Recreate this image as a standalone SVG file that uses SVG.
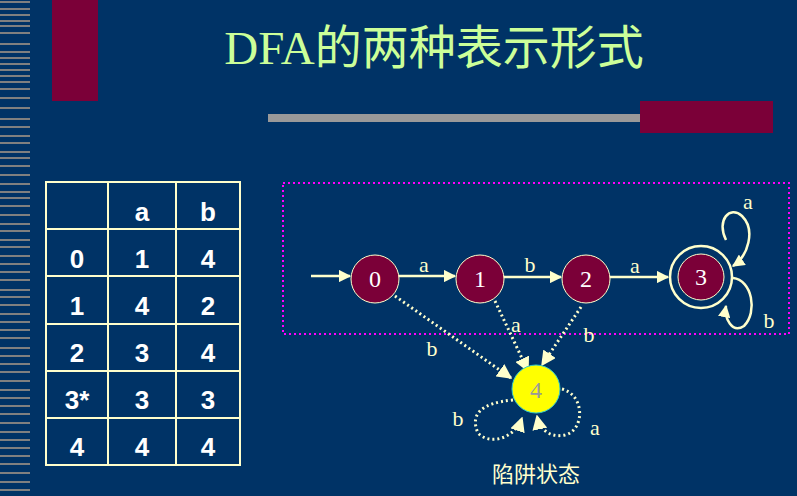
<svg xmlns="http://www.w3.org/2000/svg" width="797" height="496" viewBox="0 0 797 496">
<style>
.st{stroke:#808080;stroke-width:2}
.tb{font-family:"Liberation Sans",Arial,sans-serif;font-weight:bold;font-size:26px;fill:#fff;text-anchor:middle}
.gl{stroke:#FFFFCC;stroke-width:2.5;fill:none}
.dt{stroke:#FFFFCC;stroke-width:3;fill:none;stroke-dasharray:2 3}
.lb{font-family:"Liberation Serif","Times New Roman",serif;font-size:22px;fill:#FFFFCC;text-anchor:middle}
.nd{fill:#7B0038;stroke:#FFFFCC;stroke-width:1}
.nt{font-family:"Liberation Serif","Times New Roman",serif;font-size:24px;fill:#fff;text-anchor:middle}
</style>
<defs><marker id="ar" viewBox="0 0 10 10" refX="9" refY="5" markerWidth="5" markerHeight="5" orient="auto"><path d="M0,0L10,5L0,10z" fill="#FFFFCC"/></marker></defs>
<rect width="797" height="496" fill="#003366"/>
<g id="stripes">
<path class="st" d="M0,2H30M0,9H30M0,15H30M0,21H30M0,26H30M0,33H30M0,44H30M0,52H30M0,58H30M0,64H30M0,70H30M0,76H30M0,82H30M0,89H30M0,98H30M0,108H30M0,119H30M0,127H30M0,136H30M0,143H30M0,152H30M0,158H30M0,166H30M0,175H30M0,184H30M0,192H30M0,198H30M0,206H30M0,215H30M0,224H30M0,231H30M0,240H30M0,247H30M0,256H30M0,264H30M0,272H30M0,280H30M0,290H30M0,297H30M0,305H30M0,314H30M0,322H30M0,330H30M0,338H30M0,348H30M0,356H30M0,364H30M0,372H30M0,381H30M0,390H30M0,398H30M0,406H30M0,414H30M0,423H30M0,432H30M0,440H30M0,448H30M0,456H30M0,464H30M0,473H30M0,482H30M0,490H30"/>
</g>
<rect x="52" y="0" width="46" height="101" fill="#7B0038"/>
<rect x="268" y="114" width="505" height="8" fill="#999"/>
<rect x="640" y="101" width="133" height="32" fill="#7B0038"/>
<text x="434" y="64" font-family="'Liberation Serif','Noto Sans CJK SC',serif" font-size="47" fill="#CCFF99" text-anchor="middle">DFA的两种表示形式</text>
<g id="table">
<rect x="46" y="182" width="194" height="283" fill="none" stroke="#FFFFCC" stroke-width="2"/>
<path d="M108,182V465M176,182V465M46,229H240M46,276H240M46,324H240M46,371H240M46,418H240" stroke="#FFFFCC" stroke-width="2"/>
<text class="tb" x="142" y="221">a</text><text class="tb" x="208" y="221">b</text>
<text class="tb" x="77" y="268">0</text><text class="tb" x="142" y="268">1</text><text class="tb" x="208" y="268">4</text>
<text class="tb" x="77" y="315">1</text><text class="tb" x="142" y="315">4</text><text class="tb" x="208" y="315">2</text>
<text class="tb" x="77" y="362">2</text><text class="tb" x="142" y="362">3</text><text class="tb" x="208" y="362">4</text>
<text class="tb" x="77" y="409">3*</text><text class="tb" x="142" y="409">3</text><text class="tb" x="208" y="409">3</text>
<text class="tb" x="77" y="456">4</text><text class="tb" x="142" y="456">4</text><text class="tb" x="208" y="456">4</text>
</g>
<rect x="283" y="183" width="506" height="151" fill="none" stroke="#FF00FF" stroke-width="2" stroke-dasharray="2 3"/>
<g id="connectors">
<path class="gl" d="M311,276H350" marker-end="url(#ar)"/>
<path class="gl" d="M398,276H455" marker-end="url(#ar)"/>
<path class="gl" d="M502,277H561" marker-end="url(#ar)"/>
<path class="gl" d="M608,277H668" marker-end="url(#ar)"/>
<path class="gl" d="M726,240C716,220 730,205 742,216C756,230 748,256 733,266" marker-end="url(#ar)"/>
<path class="gl" d="M733,278C752,280 758,312 744,326C732,334 724,318 726,306" marker-end="url(#ar)"/>
<path class="dt" d="M395,296L511,378" marker-end="url(#ar)"/>
<path class="dt" d="M495,301L528,371" marker-end="url(#ar)"/>
<path class="dt" d="M581,307L542,365" marker-end="url(#ar)"/>
<path class="dt" d="M513,400C480,403 470,415 478,433C490,446 515,438 522,418" marker-end="url(#ar)"/>
<path class="dt" d="M562,389C585,395 585,430 565,435C550,438 540,430 537,416" marker-end="url(#ar)"/>
<text class="lb" x="424" y="272">a</text>
<text class="lb" x="530" y="272">b</text>
<text class="lb" x="635" y="273">a</text>
<text class="lb" x="748" y="209">a</text>
<text class="lb" x="769" y="328">b</text>
<text class="lb" x="432" y="356">b</text>
<text class="lb" x="516" y="332">a</text>
<text class="lb" x="589" y="342">b</text>
<text class="lb" x="458" y="426">b</text>
<text class="lb" x="595" y="435">a</text>
</g>
<g id="n0"><circle class="nd" cx="375" cy="279" r="24"/><text class="nt" x="375" y="287">0</text></g>
<g id="n1"><circle class="nd" cx="480" cy="279" r="24"/><text class="nt" x="480" y="287">1</text></g>
<g id="n2"><circle class="nd" cx="586" cy="279" r="24"/><text class="nt" x="586" y="287">2</text></g>
<g id="n3"><circle cx="701" cy="277" r="31" fill="none" stroke="#FFFFCC" stroke-width="2.5"/><circle class="nd" cx="701" cy="277" r="23" stroke-width="2.5"/><text class="nt" x="701" y="285">3</text></g>
<g id="n4"><circle cx="536" cy="389" r="24" fill="#FFFF00" stroke="#33CCCC" stroke-width="1"/><text x="536" y="398" font-family="'Liberation Serif',serif" font-size="24" fill="#999" text-anchor="middle">4</text></g>
<text x="536" y="482" font-family="'Noto Sans CJK SC',sans-serif" font-size="22" fill="#FFFFCC" text-anchor="middle">陷阱状态</text>
</svg>
